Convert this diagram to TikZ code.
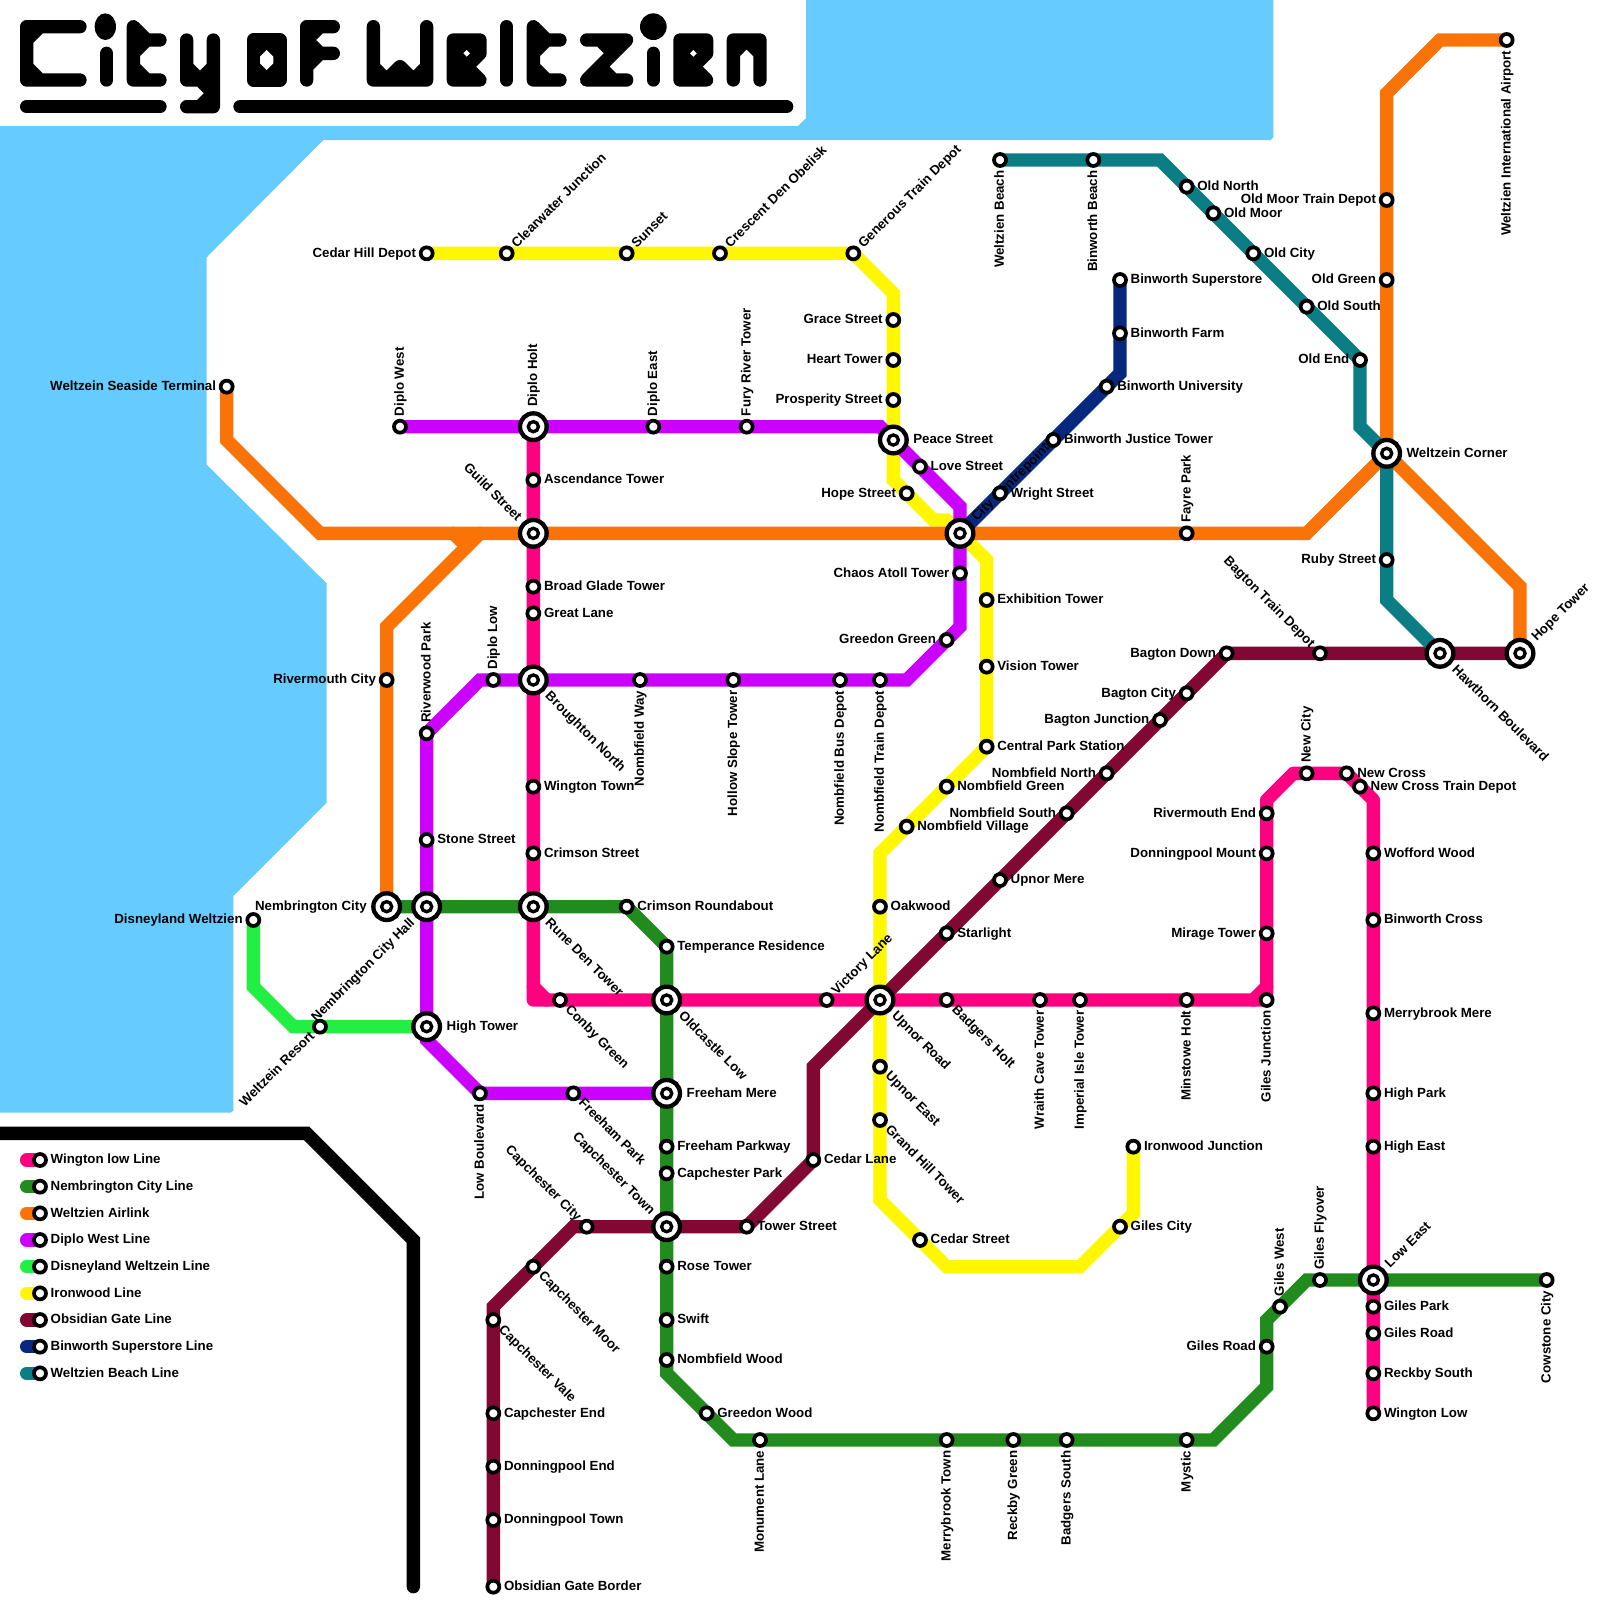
\documentclass[tikz,border=0pt]{standalone}
\usepackage{fontspec}
\setmainfont{Liberation Sans}
\usetikzlibrary{backgrounds}
\definecolor{water}{HTML}{66CCFF}
\definecolor{cPink}{HTML}{FF0080}
\definecolor{cGreen}{HTML}{228B1E}
\definecolor{cOrange}{HTML}{F97306}
\definecolor{cPurple}{HTML}{CC00FF}
\definecolor{cLime}{HTML}{22EE44}
\definecolor{cYellow}{HTML}{FFF700}
\definecolor{cObsidian}{HTML}{800833}
\definecolor{cNavy}{HTML}{06287F}
\definecolor{cTeal}{HTML}{0A7D85}
\newcommand{\labfont}{\fontsize{11.35}{13}\selectfont\bfseries}
\tikzset{
  lab/.style={inner sep=0pt,outer sep=0pt,font=\labfont,text=black},
  tr/.style={anchor=base west,shift={(#1,.29)}},
  tl/.style={anchor=base east,shift={(-#1,.29)}},
  tur/.style={rotate=45,anchor=base west,shift={(#1,.29)}},
  tdl/.style={rotate=45,anchor=base east,shift={(-#1,.29)}},
  tdr/.style={rotate=-45,anchor=base west,shift={(#1,.29)}},
  tul/.style={rotate=-45,anchor=base east,shift={(-#1,.29)}},
  tu/.style={rotate=90,anchor=base west,shift={(#1,.29)}},
  td/.style={rotate=90,anchor=base east,shift={(-#1,.29)}},
  stn/.style={circle,draw=black,fill=white,line width=.112cm,minimum size=.36cm,inner sep=0pt,outer sep=0pt},
  hub/.style={circle,draw=black,fill=white,line width=.13cm,minimum size=.8cm,inner sep=0pt,outer sep=0pt},
  hubcore/.style={draw=black,fill=white,line width=.1cm},
  metro/.style={line width=.4cm,line cap=round,line join=miter,miter limit=4},
  glyph/.style={line width=.4cm,line cap=round,line join=round,draw=black},
  glyphfill/.style={glyph,fill=black},
}
\newcommand{\St}[5]{\node[stn] (#1) at (#2,#3) {}; \node[lab,#4=.8] (#1-t) at (#1.center) {#5};}
\newcommand{\Hub}[5]{\node[hub] (#1) at (#2,#3) {}; \draw[hubcore] (#1.center) circle (.38); \node[lab,#4=1.5] (#1-t) at (#1.center) {#5};}
\newcommand{\route}[3]{\draw[metro,#1] (#2.center) \foreach \n in {#3} { -- (\n.center) };}
\newcommand{\Cn}[3]{\coordinate (#1) at (#2,#3);}
\begin{document}
\begin{tikzpicture}[x=.4cm,y=-.4cm]
\useasboundingbox (0,0) rectangle (120,120);
% hubs
\Hub{DiploHolt}{40}{32}{tu}{Diplo Holt}
\Hub{Guild}{40}{40}{tul}{Guild Street}
\Hub{Broughton}{40}{51}{tdr}{Broughton North}
\Hub{RuneDen}{40}{68}{tdr}{Rune Den Tower}
\Hub{NembCity}{29}{68}{tl}{Nembrington City}
\Hub{NembHall}{32}{68}{tdl}{Nembrington City Hall}
\Hub{HighTower}{32}{77}{tr}{High Tower}
\Hub{Oldcastle}{50}{75}{tdr}{Oldcastle Low}
\Hub{FreehamMere}{50}{82}{tr}{Freeham Mere}
\Hub{CapTown}{50}{92}{tul}{Capchester Town}
\Hub{UpnorRoad}{66}{75}{tdr}{Upnor Road}
\Hub{Peace}{67}{33}{tr}{Peace Street}
\Hub{Centre}{72}{40}{tur}{City Centrepoint}
\Hub{Corner}{104}{34}{tr}{Weltzein Corner}
\Hub{Hawthorn}{108}{49}{tdr}{Hawthorn Boulevard}
\Hub{HopeTower}{114}{49}{tur}{Hope Tower}
\Hub{LowEast}{103}{96}{tur}{Low East}
% Wington low line
\St{Ascendance}{40}{36}{tr}{Ascendance Tower}
\St{BroadGlade}{40}{44}{tr}{Broad Glade Tower}
\St{GreatLane}{40}{46}{tr}{Great Lane}
\St{WingtonTown}{40}{59}{tr}{Wington Town}
\St{CrimsonSt}{40}{64}{tr}{Crimson Street}
\St{Conby}{42}{75}{tdr}{Conby Green}
\St{VictoryLane}{62}{75}{tur}{Victory Lane}
\St{BadgersHolt}{71}{75}{tdr}{Badgers Holt}
\St{Wraith}{78}{75}{td}{Wraith Cave Tower}
\St{Imperial}{81}{75}{td}{Imperial Isle Tower}
\St{Minstowe}{89}{75}{td}{Minstowe Holt}
\St{GilesJn}{95}{75}{td}{Giles Junction}
\St{Mirage}{95}{70}{tl}{Mirage Tower}
\St{DonnMount}{95}{64}{tl}{Donningpool Mount}
\St{RivEnd}{95}{61}{tl}{Rivermouth End}
\St{NewCity}{98}{58}{tu}{New City}
\St{NewCross}{101}{58}{tr}{New Cross}
\St{NewCrossTD}{102}{59}{tr}{New Cross Train Depot}
\St{Wofford}{103}{64}{tr}{Wofford Wood}
\St{BinCross}{103}{69}{tr}{Binworth Cross}
\St{MerryMere}{103}{76}{tr}{Merrybrook Mere}
\St{HighPark}{103}{82}{tr}{High Park}
\St{HighEast}{103}{86}{tr}{High East}
\St{GilesPark}{103}{98}{tr}{Giles Park}
\St{GilesRoadE}{103}{100}{tr}{Giles Road}
\St{ReckbyS}{103}{103}{tr}{Reckby South}
\St{WingtonLow}{103}{106}{tr}{Wington Low}
% Nembrington city line
\St{CrimsonRb}{47}{68}{tr}{Crimson Roundabout}
\St{Temperance}{50}{71}{tr}{Temperance Residence}
\St{FreehamPw}{50}{86}{tr}{Freeham Parkway}
\St{CapPark}{50}{88}{tr}{Capchester Park}
\St{RoseTower}{50}{95}{tr}{Rose Tower}
\St{Swift}{50}{99}{tr}{Swift}
\St{NombWood}{50}{102}{tr}{Nombfield Wood}
\St{GreedonWood}{53}{106}{tr}{Greedon Wood}
\St{Monument}{57}{108}{td}{Monument Lane}
\St{MerryTown}{71}{108}{td}{Merrybrook Town}
\St{ReckbyG}{76}{108}{td}{Reckby Green}
\St{BadgersS}{80}{108}{td}{Badgers South}
\St{Mystic}{89}{108}{td}{Mystic}
\St{GilesRoadW}{95}{101}{tl}{Giles Road}
\St{GilesWest}{96}{98}{tu}{Giles West}
\St{GilesFly}{99}{96}{tu}{Giles Flyover}
\St{Cowstone}{116}{96}{td}{Cowstone City}
% Airlink
\St{Seaside}{17}{29}{tl}{Weltzein Seaside Terminal}
\St{RivCity}{29}{51}{tl}{Rivermouth City}
\St{Fayre}{89}{40}{tu}{Fayre Park}
\St{OldMoorTD}{104}{15}{tl}{Old Moor Train Depot}
\St{OldGreen}{104}{21}{tl}{Old Green}
\St{Airport}{113}{3}{td}{Weltzien International Airport}
% Diplo west
\St{DiploWest}{30}{32}{tu}{Diplo West}
\St{DiploEast}{49}{32}{tu}{Diplo East}
\St{Fury}{56}{32}{tu}{Fury River Tower}
\St{Love}{69}{35}{tr}{Love Street}
\St{Chaos}{72}{43}{tl}{Chaos Atoll Tower}
\St{GreedonG}{71}{48}{tl}{Greedon Green}
\St{NombTD}{66}{51}{td}{Nombfield Train Depot}
\St{NombBD}{63}{51}{td}{Nombfield Bus Depot}
\St{Hollow}{55}{51}{td}{Hollow Slope Tower}
\St{NombWay}{48}{51}{td}{Nombfield Way}
\St{DiploLow}{37}{51}{tu}{Diplo Low}
\St{Riverwood}{32}{55}{tu}{Riverwood Park}
\St{Stone}{32}{63}{tr}{Stone Street}
\St{LowBlvd}{36}{82}{td}{Low Boulevard}
\St{FreehamPk}{43}{82}{tdr}{Freeham Park}
% Disneyland
\St{Disney}{19}{69}{tl}{Disneyland Weltzien}
\St{Resort}{24}{77}{tdl}{Weltzein Resort}
% Ironwood
\St{CedarHill}{32}{19}{tl}{Cedar Hill Depot}
\St{Clearwater}{38}{19}{tur}{Clearwater Junction}
\St{Sunset}{47}{19}{tur}{Sunset}
\St{Crescent}{54}{19}{tur}{Crescent Den Obelisk}
\St{Generous}{64}{19}{tur}{Generous Train Depot}
\St{Grace}{67}{24}{tl}{Grace Street}
\St{Heart}{67}{27}{tl}{Heart Tower}
\St{Prosperity}{67}{30}{tl}{Prosperity Street}
\St{HopeSt}{68}{37}{tl}{Hope Street}
\St{Exhibition}{74}{45}{tr}{Exhibition Tower}
\St{Vision}{74}{50}{tr}{Vision Tower}
\St{CentralPark}{74}{56}{tr}{Central Park Station}
\St{NombGreen}{71}{59}{tr}{Nombfield Green}
\St{NombVillage}{68}{62}{tr}{Nombfield Village}
\St{Oakwood}{66}{68}{tr}{Oakwood}
\St{UpnorEast}{66}{80}{tdr}{Upnor East}
\St{GrandHill}{66}{84}{tdr}{Grand Hill Tower}
\St{CedarSt}{69}{93}{tr}{Cedar Street}
\St{GilesCity}{84}{92}{tr}{Giles City}
\St{IronwoodJn}{85}{86}{tr}{Ironwood Junction}
% Obsidian
\St{Border}{37}{119}{tr}{Obsidian Gate Border}
\St{DonnTown}{37}{114}{tr}{Donningpool Town}
\St{DonnEnd}{37}{110}{tr}{Donningpool End}
\St{CapEnd}{37}{106}{tr}{Capchester End}
\St{CapVale}{37}{99}{tdr}{Capchester Vale}
\St{CapMoor}{40}{95}{tdr}{Capchester Moor}
\St{CapCity}{44}{92}{tul}{Capchester City}
\St{TowerSt}{56}{92}{tr}{Tower Street}
\St{CedarLane}{61}{87}{tr}{Cedar Lane}
\St{Starlight}{71}{70}{tr}{Starlight}
\St{UpnorMere}{75}{66}{tr}{Upnor Mere}
\St{NombS}{80}{61}{tl}{Nombfield South}
\St{NombN}{83}{58}{tl}{Nombfield North}
\St{BagJn}{87}{54}{tl}{Bagton Junction}
\St{BagCity}{89}{52}{tl}{Bagton City}
\St{BagDown}{92}{49}{tl}{Bagton Down}
\St{BagTD}{99}{49}{tul}{Bagton Train Depot}
% Binworth
\St{BinStore}{84}{21}{tr}{Binworth Superstore}
\St{BinFarm}{84}{25}{tr}{Binworth Farm}
\St{BinUni}{83}{29}{tr}{Binworth University}
\St{BinJustice}{79}{33}{tr}{Binworth Justice Tower}
\St{Wright}{75}{37}{tr}{Wright Street}
% Beach
\St{Beach}{75}{12}{td}{Weltzien Beach}
\St{BinBeach}{82}{12}{td}{Binworth Beach}
\St{OldNorth}{89}{14}{tr}{Old North}
\St{OldMoor}{91}{16}{tr}{Old Moor}
\St{OldCity}{94}{19}{tr}{Old City}
\St{OldSouth}{98}{23}{tr}{Old South}
\St{OldEnd}{102}{27}{tl}{Old End}
\St{Ruby}{104}{42}{tl}{Ruby Street}
% legend
\St{lgA}{3}{87}{tr}{Wington low Line}
\St{lgB}{3}{89}{tr}{Nembrington City Line}
\St{lgC}{3}{91}{tr}{Weltzien Airlink}
\St{lgD}{3}{93}{tr}{Diplo West Line}
\St{lgE}{3}{95}{tr}{Disneyland Weltzein Line}
\St{lgF}{3}{97}{tr}{Ironwood Line}
\St{lgG}{3}{99}{tr}{Obsidian Gate Line}
\St{lgH}{3}{101}{tr}{Binworth Superstore Line}
\St{lgI}{3}{103}{tr}{Weltzien Beach Line}
\Cn{saA}{2}{87}\Cn{saB}{2}{89}\Cn{saC}{2}{91}\Cn{saD}{2}{93}\Cn{saE}{2}{95}\Cn{saF}{2}{97}\Cn{saG}{2}{99}\Cn{saH}{2}{101}\Cn{saI}{2}{103}
% bends
\Cn{pk1}{40}{75}\Cn{pk2}{40}{74}\Cn{pk3}{41}{75}\Cn{pk4}{94}{75}\Cn{pk5}{95}{74}\Cn{pk6}{95}{60}\Cn{pk7}{97}{58}\Cn{pk8}{103}{60}
\Cn{gr1}{50}{103}\Cn{gr2}{55}{108}\Cn{gr3}{91}{108}\Cn{gr4}{95}{104}\Cn{gr5}{95}{99}\Cn{gr6}{98}{96}
\Cn{or1}{17}{33}\Cn{or2}{24}{40}\Cn{or3}{36}{40}\Cn{or4}{29}{47}\Cn{or5}{34}{40}\Cn{or6}{35}{41}\Cn{or7}{98}{40}\Cn{or8}{114}{44}\Cn{or9}{104}{7}\Cn{or10}{108}{3}
\Cn{pu1}{66}{32}\Cn{pu2}{72}{38}\Cn{pu3}{72}{47}\Cn{pu4}{68}{51}\Cn{pu5}{36}{51}\Cn{pu6}{32}{78}
\Cn{li1}{19}{74}\Cn{li2}{22}{77}
\Cn{ye1}{67}{22}\Cn{ye2}{67}{36}\Cn{ye3}{70}{39}\Cn{ye4}{71}{39}\Cn{ye5}{74}{42}\Cn{ye6}{66}{64}\Cn{ye7}{66}{90}\Cn{ye8}{71}{95}\Cn{ye9}{81}{95}\Cn{ye10}{85}{91}
\Cn{ob1}{37}{98}\Cn{ob2}{43}{92}\Cn{ob3}{61}{80}
\Cn{bi1}{84}{28}
\Cn{te1}{87}{12}\Cn{te2}{102}{32}\Cn{te3}{104}{45}
\Cn{bk1}{-1}{85}\Cn{bk2}{23}{85}\Cn{bk3}{31}{93}\Cn{bk4}{31}{119}
% lines and water behind the stations
\begin{scope}[on background layer]
\fill[water] (0,9.45) -- (59.85,9.45) -- (60.45,8.87) -- (60.45,0) -- (95.5,0) -- (95.5,10.3) -- (95.3,10.5) -- (24.25,10.5) -- (15.5,19.3) -- (15.5,34.85) -- (24.5,43.75) -- (24.5,60.2) -- (17.5,67.2) -- (17.5,83.3) -- (17.3,83.45) -- (0,83.45) -- cycle;
\route{draw=black}{bk1}{bk2,bk3,bk4}
\route{draw=cYellow}{CedarHill}{Clearwater,Sunset,Crescent,Generous,ye1,Grace,Heart,Prosperity,Peace,ye2,HopeSt,ye3,ye4,Centre,ye5,Exhibition,Vision,CentralPark,NombGreen,NombVillage,ye6,Oakwood,UpnorRoad,UpnorEast,GrandHill,ye7,CedarSt,ye8,ye9,GilesCity,ye10,IronwoodJn}
\route{draw=cPink,line join=round}{DiploHolt}{Ascendance,Guild,BroadGlade,GreatLane,Broughton,WingtonTown,CrimsonSt,RuneDen,pk1,Conby,Oldcastle,VictoryLane,UpnorRoad,BadgersHolt,Wraith,Imperial,Minstowe,GilesJn,pk5,Mirage,DonnMount,RivEnd,pk6,pk7,NewCity,NewCross,NewCrossTD,pk8,Wofford,BinCross,MerryMere,HighPark,HighEast,LowEast,GilesPark,GilesRoadE,ReckbyS,WingtonLow}
\route{draw=cPink}{pk2}{pk3}
\route{draw=cPink}{pk4}{pk5}
\route{draw=cGreen}{NembCity}{NembHall,RuneDen,CrimsonRb,Temperance,Oldcastle,FreehamMere,FreehamPw,CapPark,CapTown,RoseTower,Swift,NombWood,gr1,GreedonWood,gr2,Monument,MerryTown,ReckbyG,BadgersS,Mystic,gr3,gr4,GilesRoadW,gr5,GilesWest,gr6,GilesFly,LowEast,Cowstone}
\route{draw=cOrange}{Seaside}{or1,or2,or5,Guild,Centre,Fayre,or7,Corner,or8,HopeTower}
\route{draw=cOrange}{NembCity}{RivCity,or4,or3}
\route{draw=cOrange}{or5}{or6}
\route{draw=cOrange}{Corner}{OldGreen,OldMoorTD,or9,or10,Airport}
\route{draw=cPurple}{DiploWest}{DiploHolt,DiploEast,Fury,pu1,Peace,Love,pu2,Centre,Chaos,pu3,GreedonG,pu4,NombTD,NombBD,Hollow,NombWay,Broughton,DiploLow,pu5,Riverwood,Stone,NembHall,HighTower,pu6,LowBlvd,FreehamPk,FreehamMere}
\route{draw=cLime}{Disney}{li1,li2,Resort,HighTower}
\route{draw=cObsidian}{Border}{DonnTown,DonnEnd,CapEnd,CapVale,ob1,CapMoor,ob2,CapCity,CapTown,TowerSt,CedarLane,ob3,UpnorRoad,Starlight,UpnorMere,NombS,NombN,BagJn,BagCity,BagDown,BagTD,Hawthorn,HopeTower}
\route{draw=cNavy}{BinStore}{BinFarm,bi1,BinUni,BinJustice,Wright,Centre}
\route{draw=cTeal}{Beach}{BinBeach,te1,OldNorth,OldMoor,OldCity,OldSouth,OldEnd,te2,Corner,Ruby,te3,Hawthorn}
\route{draw=cPink}{saA}{lgA}
\route{draw=cGreen}{saB}{lgB}
\route{draw=cOrange}{saC}{lgC}
\route{draw=cPurple}{saD}{lgD}
\route{draw=cLime}{saE}{lgE}
\route{draw=cYellow}{saF}{lgF}
\route{draw=cObsidian}{saG}{lgG}
\route{draw=cNavy}{saH}{lgH}
\route{draw=cTeal}{saI}{lgI}
\end{scope}
% title lettering, built from strokes as in the reference
\draw[glyph] (6,2) -- (2,2) -- (2,6) -- (6,6) (3,2) -- (2,3) (2,5) -- (3,6);
\fill[black] (7.9,2) ellipse [x radius=.8, y radius=1];
\draw[glyph] (8,4) -- (8,6);
\draw[glyph] (12,3) -- (11,3) -- (10,2) -- (10,6) -- (12,6) (11,3) -- (10,4) (10,5) -- (11,6);
\draw[glyph] (14,3) -- (14,6) -- (15,6) -- (16,7) (16,3) -- (16,8) -- (14,8) (15,8) -- (16,7) (14,5) -- (15,6) -- (16,5);
\draw[glyphfill] (19,3) -- (21,3) -- (21,6) -- (19,6) -- cycle;
\fill[white] (20,3.75) -- (20.5,4.25) -- (20.5,4.75) -- (20,5.25) -- (19.5,4.75) -- (19.5,4.25) -- cycle;
\draw[glyph] (25,2) -- (23,2) -- (23,6) (23,4) -- (25,4) (24,2) -- (23,3) -- (24,4) -- (23,5);
\draw[glyph] (28,2) -- (28,6) -- (32,6) -- (32,2) (28,5) -- (29,6) -- (30,5) -- (31,6) -- (32,5);
\draw[glyphfill] (34,3) -- (36,3) -- (36,4) -- (35,5) -- (36,6) -- (34,6) -- cycle;
\fill[white] (35,3.75) -- (35.25,4) -- (35,4.25) -- (34.75,4) -- cycle;
\draw[glyph] (38,2) -- (38,6);
\draw[glyph] (42,3) -- (41,3) -- (40,2) -- (40,6) -- (42,6) (41,3) -- (40,4) (40,5) -- (41,6);
\draw[glyph] (44,3) -- (47,3) -- (44,6) -- (47,6) (45,3) -- (46,4) (45,5) -- (46,6);
\fill[black] (49,2) circle (1);
\draw[glyph] (49,4) -- (49,6);
\draw[glyphfill] (51,3) -- (53,3) -- (53,4) -- (52,5) -- (53,6) -- (51,6) -- cycle;
\fill[white] (52,3.75) -- (52.25,4) -- (52,4.25) -- (51.75,4) -- cycle;
\draw[glyph] (55,6) -- (55,3) -- (57,3) -- (57,6) (55,4) -- (56,3) -- (57,4);
\draw[glyph] (2,8) -- (12,8) (18,8) -- (59,8);
\end{tikzpicture}
\end{document}
